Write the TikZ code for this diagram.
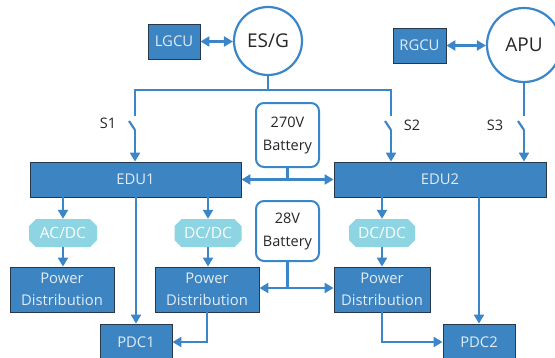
\documentclass[tikz,border=0pt]{standalone}
\usepackage{fontspec}
\setmainfont{Open Sans}
\usetikzlibrary{arrows.meta}

\definecolor{boxblue}{RGB}{60,132,194}
\definecolor{boxedge}{RGB}{38,56,74}
\definecolor{boxtext}{RGB}{226,236,245}
\definecolor{wireblue}{RGB}{58,134,200}
\definecolor{convfill}{RGB}{142,213,227}

\tikzset{
  unit/.style={draw=boxedge, fill=boxblue, text=boxtext, line width=0.9pt,
    inner sep=0pt, align=center, font=\fontsize{14.8}{22}\selectfont},
  gen/.style={circle, draw=wireblue, fill=white, line width=2.2pt,
    inner sep=0pt, text=black!85, font=\fontsize{19}{22}\selectfont},
  battery/.style={draw=wireblue, fill=white, line width=2pt, rounded corners=8pt,
    inner sep=0pt, align=center, text=black!85, font=\fontsize{14.5}{23}\selectfont},
  conv/.style={inner sep=0pt, text=white, font=\fontsize{15.5}{18}\selectfont,
    path picture={
      \fill[convfill]
        ([xshift=7pt]path picture bounding box.south west) --
        ([xshift=-7pt]path picture bounding box.south east) --
        ([yshift=7pt]path picture bounding box.south east) --
        ([yshift=-7pt]path picture bounding box.north east) --
        ([xshift=-7pt]path picture bounding box.north east) --
        ([xshift=7pt]path picture bounding box.north west) --
        ([yshift=-7pt]path picture bounding box.north west) --
        ([yshift=7pt]path picture bounding box.south west) -- cycle;
    }},
  wire/.style={draw=wireblue, line width=2.2pt},
  feed/.style={wire, -{Triangle[length=9pt,width=10pt]}},
  link/.style={wire, {Triangle[length=9pt,width=10pt]}-{Triangle[length=9pt,width=10pt]}},
  tag/.style={text=black!85, font=\fontsize{14.5}{18}\selectfont, inner sep=0pt}
}

\begin{document}
\begin{tikzpicture}[x=1pt, y=-1pt]
\useasboundingbox (0,0) rectangle (555,357);
\clip (0,0) rectangle (555,357);

% sources and their control units
\node[gen, minimum size=68pt] (esg) at (268,41) {ES/G};
\node[unit, minimum width=52pt, minimum height=35pt] (lgcu) at (174,41.5) {LGCU};
\node[gen, minimum size=74pt] (apu) at (524,45) {APU};
\node[unit, minimum width=53pt, minimum height=35pt] (rgcu) at (419.5,45.5) {RGCU};

% distribution units
\node[unit, minimum width=211pt, minimum height=35pt] (edu1) at (135.5,179.5) {EDU1};
\node[unit, minimum width=212pt, minimum height=35pt] (edu2) at (440,179.5) {EDU2};

% batteries
\node[battery, minimum width=63pt, minimum height=64pt] (b270) at (287.5,135) {270V\\Battery};
\node[battery, minimum width=63pt, minimum height=60pt] (b28) at (287.5,231) {28V\\Battery};

% converters
\node[conv, minimum width=68pt, minimum height=28pt] (acdc) at (63,233) {AC/DC};
\node[conv, minimum width=67pt, minimum height=28pt] (dcdc1) at (208,233) {DC/DC};
\node[conv, minimum width=66pt, minimum height=28pt] (dcdc2) at (382,233) {DC/DC};

% power distribution
\node[unit, minimum width=104pt, minimum height=45pt] (pd1) at (62,289.5) {Power\\Distribution};
\node[unit, minimum width=104pt, minimum height=45pt] (pd2) at (207,289.5) {Power\\Distribution};
\node[unit, minimum width=96pt, minimum height=45pt] (pd3) at (382,289.5) {Power\\Distribution};

% load centres
\node[unit, minimum width=72pt, minimum height=36pt] (pdc1) at (136,342) {PDC1};
\node[unit, minimum width=72pt, minimum height=36pt] (pdc2) at (479,342) {PDC2};

% control links
\draw[link] (lgcu.east) -- (esg.west |- lgcu.east);
\draw[link] (rgcu.east) -- (apu.west |- rgcu.east);

% main bus with switches S1, S2
\coordinate (busL) at (135,90);
\coordinate (busR) at (391,90);
\coordinate (s1a) at (135,116);
\coordinate (s1b) at (129,121);
\coordinate (s1c) at (135,130);
\coordinate (s2a) at (391,116);
\coordinate (s2b) at (385,121);
\coordinate (s2c) at (391,130);
\draw[wire] (esg.south) -- (esg.south |- busL);
\draw[wire, line join=miter] (s1a) -- (busL) -- (busR) -- (s2a);
\draw[wire] (s1b) -- (s1c);
\draw[wire] (s2b) -- (s2c);
\draw[feed] (s1c) -- (s1c |- edu1.north);
\draw[feed] (s2c) -- (s2c |- edu2.north);

% APU feed with switch S3
\coordinate (s3a) at (524,116);
\coordinate (s3b) at (518,121);
\coordinate (s3c) at (524,130);
\draw[wire] (apu.south) -- (s3a);
\draw[wire] (s3b) -- (s3c);
\draw[feed] (s3c) -- (s3c |- edu2.north);

\node[tag] (s1) at (108,123) {S1};
\node[tag] (s2) at (412,125) {S2};
\node[tag] (s3) at (495,125) {S3};

% 270V battery tie
\coordinate (j270) at (287.5,179.5);
\draw[wire] (b270.south) -- (j270);
\draw[feed] (j270) -- (edu1.east);
\draw[feed] (j270) -- (edu2.west);

% 28V battery tie
\coordinate (j28) at (287.5,288);
\draw[wire] (b28.south) -- (j28);
\draw[feed] (j28) -- (j28 -| pd2.east);
\draw[feed] (j28) -- (j28 -| pd3.west);

% EDU1 branch
\draw[feed] (edu1.south -| acdc) -- (acdc.north);
\draw[feed] (acdc.south) -- (acdc.south |- pd1.north);
\draw[feed] (edu1.south -| dcdc1) -- (dcdc1.north);
\draw[feed] (dcdc1.south) -- (dcdc1.south |- pd2.north);
\draw[feed] (edu1.south -| pdc1) -- (pdc1.north);
\draw[feed] (pd2.south) |- (pdc1.east);

% EDU2 branch
\draw[feed] (edu2.south -| dcdc2) -- (dcdc2.north);
\draw[feed] (dcdc2.south) -- (dcdc2.south |- pd3.north);
\draw[feed] (edu2.south -| pdc2) -- (pdc2.north);
\draw[feed] (pd3.south) |- (pdc2.west);
\end{tikzpicture}
\end{document}
